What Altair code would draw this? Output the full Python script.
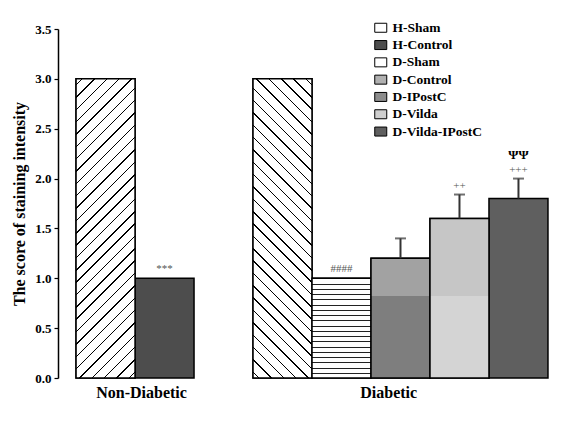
import altair as alt
import pandas as pd

# ---- data ----
groups = ["H-Sham", "H-Control", "D-Sham", "D-Control", "D-IPostC", "D-Vilda", "D-Vilda-IPostC"]
values = [3.0, 1.0, 3.0, 1.0, 1.2, 1.6, 1.8]
errors = [0.0, 0.0, 0.0, 0.0, 0.2, 0.24, 0.2]
marks1 = ["", "***", "", "####", "", "++", "+++"]
marks2 = ["", "", "", "", "", "", "ΨΨ"]
group_labels = ["Non-Diabetic", "Diabetic"]

df = pd.DataFrame({"group": groups, "value": values, "err": errors, "m1": marks1, "m2": marks2})

# ---- layout / style ----
W, H = 502, 349
YMAX = 3.5
PO = 0.255
GAP = " "
x_domain = ["H-Sham", "H-Control", GAP, "D-Sham", "D-Control", "D-IPostC", "D-Vilda", "D-Vilda-IPostC"]
BW = W / (len(x_domain) + 2 * PO)
FONT = "Liberation Serif, Times New Roman, DejaVu Serif, serif"

fills = ["#ffffff", "#4d4d4d", "#ffffff", "#b0b0b0", "#8c8c8c", "#cfcfcf", "#5f5f5f"]

xscale = alt.Scale(domain=x_domain, paddingInner=0, paddingOuter=PO, align=0.6)
xenc = alt.X("group:N", scale=xscale,
             axis=alt.Axis(labels=False, ticks=False, title=None, domainColor="black", domainWidth=1.5))
yenc = alt.Y("value:Q", scale=alt.Scale(domain=[0, YMAX], nice=False, zero=True),
             axis=alt.Axis(values=[0, 0.5, 1, 1.5, 2, 2.5, 3, 3.5], format=".1f", grid=False,
                           tickSize=4, tickColor="black", tickWidth=1.2, domainColor="black", domainWidth=1.5,
                           labelFont=FONT, labelFontWeight="bold", labelFontSize=13, labelColor="black",
                           labelPadding=3, title="The score of staining intensity", titleFont=FONT,
                           titleFontWeight="bold", titleFontSize=16, titleColor="black", titlePadding=7))


def diag_grad(value, spacing=12.5, frac=0.12, slash=True):
    w = BW
    h = value / YMAX * H
    r = w / h
    q = (r + 1) / (r * r + 1)
    p = r * q
    n = round((w + h) / spacing)
    stops = [{"offset": 0, "color": "white"}]
    for k in range(n):
        a = (k + 0.5 - frac / 2) / n
        b = (k + 0.5 + frac / 2) / n
        stops += [{"offset": a, "color": "white"}, {"offset": a, "color": "black"},
                  {"offset": b, "color": "black"}, {"offset": b, "color": "white"}]
    stops.append({"offset": 1, "color": "white"})
    if slash:
        return {"gradient": "linear", "x1": 0, "y1": 0, "x2": p, "y2": q, "stops": stops}
    return {"gradient": "linear", "x1": 0, "y1": 1, "x2": p, "y2": 1 - q, "stops": stops}


def hstripes(value, spacing=5.3, frac=0.22, bg="white", fg="#222222"):
    h = value / YMAX * H
    n = round(h / spacing)
    stops = [{"offset": 0, "color": fg}]
    for k in range(n):
        a = k / n + frac / n
        b = (k + 1) / n
        stops += [{"offset": a, "color": fg}, {"offset": a, "color": bg},
                  {"offset": b, "color": bg}, {"offset": b, "color": fg}]
    return {"gradient": "linear", "x1": 0, "y1": 0, "x2": 0, "y2": 1, "stops": stops}


def two_tone(value, split, top, bottom):
    f = (value - split) / value
    return {"gradient": "linear", "x1": 0, "y1": 0, "x2": 0, "y2": 1,
            "stops": [{"offset": 0, "color": top}, {"offset": f, "color": top},
                      {"offset": f, "color": bottom}, {"offset": 1, "color": bottom}]}


base = alt.Chart(df)

bars = base.mark_bar(stroke="black", strokeWidth=1.5).encode(
    x=xenc, y=yenc,
    fill=alt.Fill("group:N", scale=alt.Scale(domain=groups, range=fills),
                  legend=alt.Legend(title=None, orient="none", legendX=316, legendY=-8,
                                    symbolType="M-1,-0.75H1V0.75H-1Z", symbolSize=144,
                                    symbolStrokeColor="black", symbolStrokeWidth=1,
                                    labelFont=FONT, labelFontWeight="bold", labelFontSize=13.5,
                                    labelColor="black", labelOffset=5, rowPadding=2.3, padding=0))
)

val = dict(zip(groups, values))
overlays = []
grads = {
    "H-Sham": diag_grad(val["H-Sham"], slash=True),
    "D-Sham": diag_grad(val["D-Sham"], slash=False),
    "D-Control": hstripes(val["D-Control"]),
    "D-IPostC": two_tone(val["D-IPostC"], 0.82, "#a2a2a2", "#7e7e7e"),
    "D-Vilda": two_tone(val["D-Vilda"], 0.82, "#c6c6c6", "#d4d4d4"),
}
for g, grad in grads.items():
    overlays.append(
        base.transform_filter(alt.datum.group == g).mark_bar(stroke="black", strokeWidth=1.5, fill=grad)
        .encode(x=xenc, y="value:Q")
    )

eb = base.transform_filter(alt.datum.err > 0).transform_calculate(upper="datum.value + datum.err")
rules = eb.mark_rule(color="#333333", strokeWidth=2).encode(x=xenc, y="value:Q", y2="upper:Q")
caps = eb.mark_tick(color="#333333", thickness=2, size=11, orient="horizontal").encode(x=xenc, y="upper:Q")

ann = base.transform_calculate(upper="datum.value + datum.err")
t1 = ann.transform_filter(alt.datum.m1 != "").mark_text(
    font=FONT, fontSize=11, color="#555555", baseline="middle", dy=-9
).encode(x=xenc, y="upper:Q", text="m1:N")
t2 = ann.transform_filter(alt.datum.m2 != "").mark_text(
    font=FONT, fontSize=13, fontWeight="bold", color="black", baseline="middle", dy=-24
).encode(x=xenc, y="upper:Q", text="m2:N")

gl = pd.DataFrame({"label": group_labels, "group": ["H-Control", "D-IPostC"]})
gl1 = alt.Chart(gl).transform_filter(alt.datum.label == group_labels[0]).mark_text(
    font=FONT, fontSize=16, fontWeight="bold", color="black", baseline="middle"
).encode(x=alt.X("group:N", scale=xscale, bandPosition=0.11, axis=None),
         y=alt.value(H + 15), text="label:N")
gl2 = alt.Chart(gl).transform_filter(alt.datum.label == group_labels[1]).mark_text(
    font=FONT, fontSize=16, fontWeight="bold", color="black", baseline="middle"
).encode(x=alt.X("group:N", scale=xscale, bandPosition=0.3, axis=None),
         y=alt.value(H + 15), text="label:N")

chart = alt.layer(bars, *overlays, rules, caps, t1, t2, gl1, gl2).properties(
    width=W, height=H, autosize="none",
    padding={"left": 50, "top": 21, "right": 20, "bottom": 50},
    background="white",
).configure_view(stroke=None)

chart.save("out.html", embed_options={"renderer": "svg", "actions": False})
